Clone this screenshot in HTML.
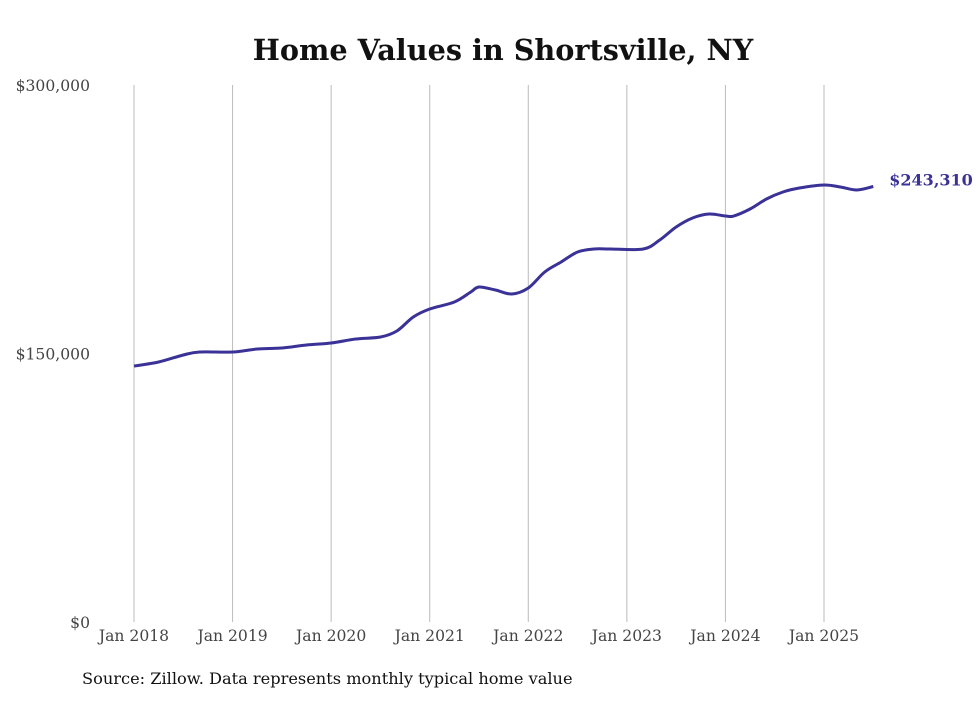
<!DOCTYPE html>
<html><head><meta charset="utf-8"><style>
body{margin:0;background:#fff;font-family:"DejaVu Serif","Liberation Serif",serif;}
</style></head><body>
<svg id="chart" width="980" height="699" xmlns="http://www.w3.org/2000/svg">
<rect width="980" height="699" fill="#fff"/>
<text x="503" y="60" text-anchor="middle" font-size="28.7" font-weight="bold" fill="#111">Home Values in Shortsville, NY</text>
<g id="grid"></g><g id="yticks"></g><g id="xticks"></g>
<path id="line" fill="none" stroke="#3a3297" stroke-width="3"/>
<text id="endlabel" font-size="16" font-weight="bold" fill="#3a3297"></text>
<text x="82" y="684" font-size="16.2" fill="#111">Source: Zillow. Data represents monthly typical home value</text>
</svg>
<script>
const months=[0,3,6,8,12,15,18,21,24,27,30,32,34,36,39,41,42,44,46,48,50,52,54,56,58,62,64,66,68,70,72,73,75,77,79,81,84,86,88,90];
const values=[143000,145250,149160,150840,150840,152520,153080,154750,155870,158100,159220,162570,170400,174860,178770,184360,187150,185470,183240,186590,195530,201120,206700,208380,208380,208380,213400,220670,225700,227930,226810,226810,230720,236310,240220,242450,244130,243020,241340,243310];
const yTickValues=[0,150000,300000];
const yTickLabels=["$0","$150,000","$300,000"];
const xTickYears=["Jan 2018","Jan 2019","Jan 2020","Jan 2021","Jan 2022","Jan 2023","Jan 2024","Jan 2025"];
const endLabel="$243,310";
const X=m=>134+m*(824-134)/84;
const Y=v=>622-v*(622-85)/300000;
const NS="http://www.w3.org/2000/svg";
function mk(t,a,p){const e=document.createElementNS(NS,t);for(const k in a)e.setAttribute(k,a[k]);p.appendChild(e);return e;}
const grid=document.getElementById('grid'),xt=document.getElementById('xticks'),yt=document.getElementById('yticks');
xTickYears.forEach((l,i)=>{const x=X(i*12);
 const g=mk('line',{x1:x,x2:x,y1:85,y2:622,stroke:'#bbb','stroke-width':1},grid);
 
 
 const t=mk('text',{x:x,y:641,'text-anchor':'middle','font-size':15.6,fill:'#444'},xt);t.textContent=l;
 
 
});
yTickValues.forEach((v,i)=>{const t=mk('text',{x:90,y:Y(v)+6,'text-anchor':'end','font-size':15.6,fill:'#444'},yt);t.textContent=yTickLabels[i];
 
 
});
const pts=months.map((m,i)=>[X(m),Y(values[i])]);
let d='M'+pts[0][0]+','+pts[0][1];
for(let i=0;i<pts.length-1;i++){const p0=pts[Math.max(0,i-1)],p1=pts[i],p2=pts[i+1],p3=pts[Math.min(pts.length-1,i+2)];
 const c1=[p1[0]+(p2[0]-p0[0])/6,p1[1]+(p2[1]-p0[1])/6],c2=[p2[0]-(p3[0]-p1[0])/6,p2[1]-(p3[1]-p1[1])/6];
 d+=`C${c1[0]},${c1[1]} ${c2[0]},${c2[1]} ${p2[0]},${p2[1]}`;}
document.getElementById('line').setAttribute('d',d);
const el=document.getElementById('endlabel');const last=pts[pts.length-1];
el.setAttribute('x',last[0]+16);el.setAttribute('y',last[1]-1);el.textContent=endLabel;
</script>
</body></html>
